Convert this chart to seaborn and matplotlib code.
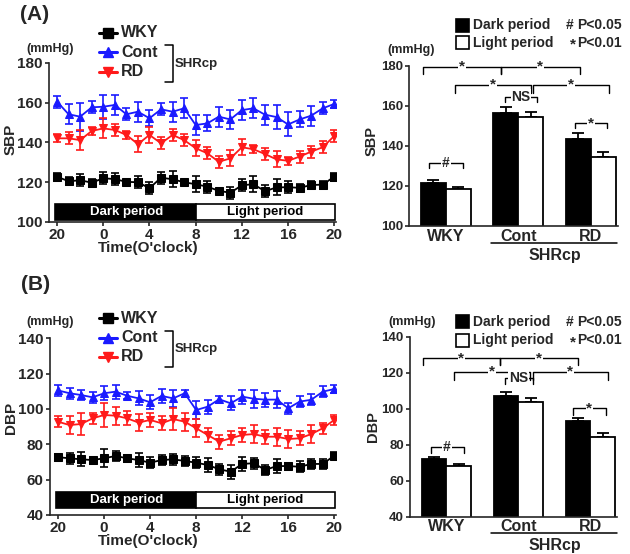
import matplotlib
matplotlib.use('Agg')
import matplotlib.pyplot as plt
from matplotlib.lines import Line2D
from matplotlib.patches import Rectangle
import numpy as np
import pandas as pd
import seaborn as sns

# clock hours, 20:00 -> 20:00 next day
hours = [20, 21, 22, 23, 0, 1, 2, 3, 4, 5, 6, 7, 8, 9, 10, 11, 12, 13, 14, 15, 16, 17, 18, 19, 20]

# SBP time course (mean, sem)
sbp_wky = [122.8, 120.5, 121.0, 119.8, 122.0, 121.6, 120.2, 120.0, 117.0, 122.3, 121.5, 120.0, 119.0,
           117.8, 115.7, 114.7, 118.5, 119.0, 115.5, 117.4, 117.5, 117.2, 118.6, 118.8, 122.8]
sbp_wky_err = [2, 2, 3, 2, 3, 3, 1, 3, 3, 3, 4, 1, 4, 3, 1, 3, 3, 4, 3, 4, 3, 2, 2, 2, 2]
sbp_cont = [160.5, 154.2, 153.0, 157.7, 158.0, 158.9, 154.2, 155.5, 152.2, 156.7, 155.5, 157.2, 148.8,
            149.6, 153.0, 151.6, 156.3, 157.2, 154.0, 152.8, 149.1, 151.6, 153.5, 157.2, 159.4]
sbp_cont_err = [3, 5, 7, 3, 6, 5, 3, 5, 4, 3, 5, 5, 5, 4, 5, 5, 5, 5, 5, 6, 6, 4, 5, 3, 2]
sbp_rd = [142.1, 142.1, 141.2, 145.8, 147.1, 146.3, 143.8, 139.2, 143.8, 139.6, 143.8, 141.2, 137.1,
          134.6, 130.3, 132.0, 137.6, 136.6, 134.2, 131.5, 130.8, 132.9, 135.4, 137.6, 143.3]
sbp_rd_err = [2, 3, 5, 2, 5, 3, 2, 4, 4, 3, 3, 3, 4, 3, 3, 4, 4, 2, 3, 4, 2, 3, 3, 3, 3]

# DBP time course (mean, sem)
dbp_wky = [72.7, 72.1, 71.5, 71.1, 72.1, 73.4, 72.1, 71.1, 69.6, 71.1, 71.5, 70.6, 69.6,
           68.3, 65.9, 64.5, 68.9, 69.3, 65.5, 67.7, 67.7, 67.3, 68.9, 68.9, 73.6]
dbp_wky_err = [2, 3, 4, 2, 5, 3, 2, 4, 3, 3, 3, 3, 3, 4, 3, 4, 4, 3, 3, 4, 2, 3, 3, 3, 2]
dbp_cont = [110.5, 108.9, 107.9, 106.6, 108.9, 109.8, 107.5, 106.0, 103.8, 107.4, 106.0, 108.9, 99.4,
            101.3, 105.5, 103.2, 107.0, 105.8, 105.3, 105.3, 100.4, 104.2, 105.2, 109.8, 111.3]
dbp_cont_err = [3, 3, 3, 3, 4, 4, 2, 4, 4, 4, 5, 2, 5, 4, 2, 4, 4, 5, 4, 5, 3, 3, 3, 3, 2]
dbp_rd = [92.8, 90.9, 91.5, 94.7, 96.6, 96.2, 94.7, 92.3, 93.8, 91.9, 94.3, 92.8, 89.1,
          85.3, 81.5, 83.4, 85.3, 85.8, 84.3, 84.3, 83.0, 83.4, 85.8, 89.1, 93.8]
dbp_rd_err = [3, 5, 6, 3, 7, 5, 4, 5, 4, 4, 6, 5, 5, 4, 4, 4, 4, 5, 4, 5, 5, 4, 5, 3, 3]

# period averages
groups = ['WKY', 'Cont', 'RD']
periods = ['Dark period', 'Light period']
sbp_dark = [121.6, 156.5, 143.3]
sbp_dark_err = [1.4, 3.0, 3.0]
sbp_light = [118.3, 154.2, 134.6]
sbp_light_err = [1.2, 2.5, 2.4]
dbp_dark = [72.1, 107.3, 93.2]
dbp_dark_err = [0.8, 1.9, 1.9]
dbp_light = [68.2, 103.6, 84.5]
dbp_light_err = [1.2, 2.5, 2.2]

# significance brackets: x1, x2, y, drop, label
sbp_brackets = [(-0.317, 0.759, 179.5, 3.7, '*'), (0.759, 1.848, 179.5, 3.7, '*'),
                (0.124, 1.172, 170.4, 4.2, '*'), (1.204, 2.252, 170.4, 4.2, '*'),
                (0.814, 1.259, 164.5, 2.8, 'NS'), (1.78, 2.217, 151.2, 2.5, '*'),
                (-0.23, 0.23, 131.3, 2.5, '#')]
dbp_brackets = [(-0.327, 0.742, 128.1, 3.8, '*'), (0.742, 1.825, 128.1, 3.8, '*'),
                (0.110, 1.159, 120.6, 4.6, '*'), (1.204, 2.239, 120.6, 4.6, '*'),
                (0.814, 1.196, 117.0, 3.5, 'NS'), (1.756, 2.217, 100.3, 3.8, '*'),
                (-0.22, 0.239, 78.9, 3.3, '#')]

BLUE = '#1a1aff'
RED = '#ff1a1a'

sns.set_style('ticks')
plt.rcParams['font.family'] = ['Liberation Sans', 'DejaVu Sans']
plt.rcParams['font.weight'] = 'bold'
plt.rcParams['axes.linewidth'] = 1.2

W, H = 630, 554
fig = plt.figure(figsize=(W / 100, H / 100), dpi=100)


def rect(x0, y0, x1, y1):
    return [x0 / W, 1 - y1 / H, (x1 - x0) / W, (y1 - y0) / H]


def ft(x, y, s, **kw):
    kw.setdefault('fontweight', 'bold')
    fig.text(x / W, 1 - y / H, s, **kw)


def fline(xs, ys, **kw):
    fig.add_artist(Line2D([x / W for x in xs], [1 - y / H for y in ys], **kw))


def line_panel(box, ylim, yticks, series, band, label, label_y, unit_y):
    ax = fig.add_axes(rect(*box))
    pos = np.arange(len(hours))
    for vals, errs, color, marker in series:
        df = pd.DataFrame({'pos': pos, 'val': vals})
        sns.lineplot(data=df, x='pos', y='val', color=color, marker=marker, markersize=6,
                     markeredgecolor=color, linewidth=1.3, ax=ax, zorder=3)
        ax.errorbar(pos, vals, yerr=errs, fmt='none', ecolor=color, elinewidth=1.2,
                    capsize=3, capthick=1.2, zorder=2)
    ax.add_patch(Rectangle((-0.15, band[0]), 12.15, band[1] - band[0], facecolor='black',
                           edgecolor='black', linewidth=1.2, clip_on=False))
    ax.add_patch(Rectangle((12, band[0]), 12.1, band[1] - band[0], facecolor='white',
                           edgecolor='black', linewidth=1.2, clip_on=False))
    mid = (band[0] + band[1]) / 2
    ax.text(6, mid, 'Dark period', color='white', ha='center', va='center', fontsize=9.5, fontweight='bold')
    ax.text(18, mid, 'Light period', color='black', ha='center', va='center', fontsize=9.5, fontweight='bold')
    ax.set_xlim(-0.7, 24.15)
    ax.set_ylim(*ylim)
    ax.set_xticks(pos[::4])
    ax.set_xticklabels([str(h) for h in hours[::4]])
    ax.set_yticks(yticks)
    ax.tick_params(axis='both', labelsize=11, length=3, width=1.2, pad=1.5)
    for t in ax.get_xticklabels() + ax.get_yticklabels():
        t.set_fontweight('bold')
    ax.set_xlabel('')
    ax.set_ylabel('')
    sns.despine(ax=ax)
    # y label, unit, x label
    ft(11, label_y, label, rotation=90, ha='center', va='center', fontsize=11)
    ft(50, unit_y, '(mmHg)', ha='center', va='center', fontsize=9)
    ft(148, box[3] + 26, "Time(O'clock)", ha='center', va='center', fontsize=11)


def bar_panel(box, ylim, yticks, dark, dark_err, light, light_err, brackets, label, lab_xy):
    ax = fig.add_axes(rect(*box))
    df = pd.DataFrame({'group': groups * 2, 'period': [periods[0]] * 3 + [periods[1]] * 3,
                       'val': dark + light})
    sns.barplot(data=df, x='group', y='val', hue='period', hue_order=periods, order=groups,
                palette=['black', 'white'], edgecolor='black', linewidth=1.3, width=0.69,
                legend=False, ax=ax, zorder=2)
    for bar in ax.patches:
        cx = bar.get_x() + bar.get_width() / 2
        g = int(round(cx))
        p = 0 if cx < g else 1
        e = (dark_err if p == 0 else light_err)[g]
        ax.errorbar([cx], [bar.get_height()], yerr=[[0], [e]], fmt='none', ecolor='black',
                    elinewidth=1.3, capsize=4.5, capthick=1.3, zorder=1)
    for x1, x2, y, d, s in brackets:
        ax.plot([x1, x1, x2, x2], [y - d, y, y, y - d], color='black', linewidth=1.0,
                clip_on=False, zorder=3)
        ax.text((x1 + x2) / 2, y, s, ha='center', va='center', fontsize=10 if s != '*' else 11,
                fontweight='bold', zorder=4,
                bbox=dict(facecolor='white', edgecolor='none', pad=0.6))
    ax.set_xlim(-0.506, 2.37)
    ax.set_ylim(*ylim)
    ax.set_yticks(yticks)
    ax.tick_params(axis='y', labelsize=9.5, length=3, width=1.2, pad=1.5)
    ax.tick_params(axis='x', labelsize=11.5, length=0, pad=2)
    for t in ax.get_xticklabels() + ax.get_yticklabels():
        t.set_fontweight('bold')
    ax.set_xlabel('')
    ax.set_ylabel('')
    sns.despine(ax=ax)
    ft(lab_xy[0], lab_xy[1], label, rotation=90, ha='center', va='center', fontsize=10.5)


def line_legend(y0, dy):
    items = [('WKY', 'black', 's'), ('Cont', BLUE, '^'), ('RD', RED, 'v')]
    for i, (name, color, marker) in enumerate(items):
        y = y0 + i * dy
        fline([99, 117], [y, y], color=color, linewidth=2.2)
        fline([108], [y], color=color, marker=marker, markersize=7, linestyle='none')
        ft(121, y, name, ha='left', va='center', fontsize=11.5)
    fline([165, 172.5, 172.5, 165], [y0 + dy * 0.65, y0 + dy * 0.65, y0 + 2 * dy + 10, y0 + 2 * dy + 10],
          color='black', linewidth=1.1)
    ft(175, y0 + 1.6 * dy, 'SHRcp', ha='left', va='center', fontsize=9.5)


def bar_legend(y_dark, y_light):
    fig.add_artist(Rectangle((456 / W, 1 - (y_dark + 6.5) / H), 13 / W, 13 / H,
                             facecolor='black', edgecolor='black', linewidth=1.2,
                             transform=fig.transFigure))
    fig.add_artist(Rectangle((456 / W, 1 - (y_light + 6.5) / H), 13 / W, 13 / H,
                             facecolor='white', edgecolor='black', linewidth=1.2,
                             transform=fig.transFigure))
    ft(473, y_dark, 'Dark period', ha='left', va='center', fontsize=10)
    ft(473, y_light, 'Light period', ha='left', va='center', fontsize=10)
    ft(566, y_dark, '#', ha='left', va='center', fontsize=10)
    ft(577, y_dark, 'P<0.05', ha='left', va='center', fontsize=10)
    ft(570, y_light + 2, '*', ha='left', va='center', fontsize=11)
    ft(577, y_light, 'P<0.01', ha='left', va='center', fontsize=10)


def group_label(y_line):
    fline([491, 617], [y_line, y_line], color='black', linewidth=1.1)
    ft(555, y_line + 12, 'SHRcp', ha='center', va='center', fontsize=11.5)


# (A) SBP
line_panel((49, 63, 336, 222), (100, 180), [100, 120, 140, 160, 180],
           [(sbp_wky, sbp_wky_err, 'black', 's'), (sbp_cont, sbp_cont_err, BLUE, '^'),
            (sbp_rd, sbp_rd_err, RED, 'v')], (101, 109), 'SBP', 139, 49)
line_legend(32.7, 19.5)
bar_panel((409.3, 65.7, 617.7, 226), (100, 180), [100, 120, 140, 160, 180],
          sbp_dark, sbp_dark_err, sbp_light, sbp_light_err, sbp_brackets, 'SBP', (372, 141))
bar_legend(25, 42.7)
ft(411, 50, '(mmHg)', ha='center', va='center', fontsize=9)
group_label(243.3)
ft(35, 15, '(A)', ha='center', va='center', fontsize=15)

# (B) DBP
line_panel((50, 338.3, 336, 515), (40, 140), [40, 60, 80, 100, 120, 140],
           [(dbp_wky, dbp_wky_err, 'black', 's'), (dbp_cont, dbp_cont_err, BLUE, '^'),
            (dbp_rd, dbp_rd_err, RED, 'v')], (44, 53), 'DBP', 418, 322)
line_legend(318.3, 19.2)
bar_panel((410, 336.7, 617, 516.7), (40, 140), [40, 60, 80, 100, 120, 140],
          dbp_dark, dbp_dark_err, dbp_light, dbp_light_err, dbp_brackets, 'DBP', (373.5, 427))
bar_legend(321.7, 340)
ft(412, 322, '(mmHg)', ha='center', va='center', fontsize=9)
group_label(533.3)
ft(36, 285, '(B)', ha='center', va='center', fontsize=15)

fig.savefig('out.png', dpi=100, facecolor='white')
